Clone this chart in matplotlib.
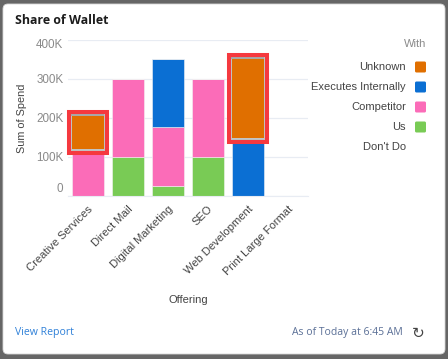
import matplotlib
matplotlib.use('Agg')
import matplotlib.pyplot as plt
from matplotlib.patches import FancyBboxPatch, Rectangle
import numpy as np

offerings = ['Creative Services', 'Direct Mail', 'Digital Marketing', 'SEO', 'Web Development', 'Print Large Format']
us = [0, 100, 24, 100, 0, 0]
competitor = [120, 200, 151, 200, 0, 0]
internal = [0, 0, 175, 0, 148, 0]
unknown = [85, 0, 0, 0, 202, 0]
yticks = [0, 100, 200, 300, 400]
ylabels = ['0', '100K', '200K', '300K', '400K']
legend_names = ['Unknown', 'Executes Internally', 'Competitor', 'Us', "Don't Do"]
colors = ['#e06f00', '#0b6fd3', '#fb6cb8', '#79cb55', None]
highlighted = [0, 4]

W, H = 448, 359
plt.rcParams['font.family'] = ['Liberation Sans', 'DejaVu Sans']
fig = plt.figure(figsize=(W / 100, H / 100), dpi=100, facecolor='#666666')

# the white card behind everything
bg = fig.add_axes([0, 0, 1, 1], zorder=0)
bg.set_xlim(0, W)
bg.set_ylim(H, 0)
bg.axis('off')
bg.add_patch(FancyBboxPatch((7, 8), 434, 342, boxstyle='round,pad=4,rounding_size=5',
                            fc='white', ec='#d8d8d8', lw=0.6))

ax = fig.add_axes([67.5 / W, 1 - 195.5 / H, 240 / W, 156 / H], zorder=1)
ax.patch.set_alpha(0)
x = np.arange(len(offerings))
bottom = np.zeros(len(offerings))
for vals, c in [(us, colors[3]), (competitor, colors[2]), (internal, colors[1]), (unknown, colors[0])]:
    ax.bar(x, vals, 0.8, bottom=bottom, color=c, edgecolor='#f3f3f3', lw=0.4, zorder=2)
    bottom = bottom + np.array(vals)

# red highlight around the Unknown segments
base = np.array(us) + np.array(competitor) + np.array(internal)
for i in highlighted:
    y0 = base[i]
    h = unknown[i]
    # soft shadow just under the box
    ax.add_patch(Rectangle((i - 0.47, y0 - 17), 0.98, h + 30, fc='black', ec='none', alpha=0.18, zorder=2.5, clip_on=False))
    ax.add_patch(Rectangle((i - 0.41, y0 - 4), 0.82, h + 8, fc='none', ec='#c4c4c4', lw=1.4, zorder=3, clip_on=False))
    ax.add_patch(Rectangle((i - 0.41, y0 + h), 0.82, 7, fc='#a8a8a8', ec='none', zorder=3, clip_on=False))
    ax.add_patch(Rectangle((i - 0.475, y0 - 10), 0.95, h + 20, fill=False, ec='#f5393f', lw=2.9, zorder=4, clip_on=False))
    # the bar itself stays clean inside the box
    ax.bar(i, h, 0.8, bottom=y0, color=colors[0], zorder=3.5)

ax.set_xlim(-0.5, 5.5)
ax.set_ylim(0, 400)
ax.set_yticks(yticks)
ax.set_yticklabels(ylabels, fontsize=8.4, color='#8a8a8a')
ax.get_yticklabels()[0].set_va('bottom')
ax.get_yticklabels()[-1].set_va('top')
ax.set_xticks(x)
ax.set_xticklabels(offerings, rotation=45, ha='right', va='top', rotation_mode='anchor',
                   fontsize=8, color='#444444')
ax.tick_params(length=0, axis='both')
ax.tick_params(axis='y', pad=3)
ax.tick_params(axis='x', pad=6)
ax.grid(axis='y', color='#e8ecf3', lw=0.9, zorder=0)
ax.set_axisbelow(True)
for s in ax.spines.values():
    s.set_visible(False)
ax.spines['bottom'].set_visible(True)
ax.spines['bottom'].set_color('#e8ecf3')

bg.text(22, 118, 'Sum of Spend', rotation=90, ha='center', va='center', fontsize=7.8, color='#444444')
bg.text(188, 300, 'Offering', ha='center', va='center', fontsize=8, color='#444444')
bg.text(15, 21, 'Share of Wallet', ha='left', va='center', fontsize=8.9, fontweight='bold',
        color='#1c1c1c', family=['Open Sans', 'DejaVu Sans'])

# legend, right aligned
bg.text(426, 44, 'With', ha='right', va='center', fontsize=8, color='#8a8a8a')
ly = 67
for name, c in zip(legend_names, colors):
    bg.text(406, ly, name, ha='right', va='center', fontsize=8, color='#444444')
    if c:
        bg.add_patch(FancyBboxPatch((416, ly - 4.5), 9, 9, boxstyle='round,pad=1,rounding_size=1.5', fc=c, ec='none'))
    ly += 20

bg.text(15, 332, 'View Report', ha='left', va='center', fontsize=7.6, color='#2f80d8',
        family=['Open Sans', 'DejaVu Sans'])
bg.text(403, 333, 'As of Today at 6:45 AM', ha='right', va='center', fontsize=7.5, color='#5a6f96',
        family=['Open Sans', 'DejaVu Sans'])
bg.text(418, 333, '\u21bb', ha='center', va='center', fontsize=11, color='#444444', family=['DejaVu Sans'])

fig.savefig('out.png', dpi=100, facecolor=fig.get_facecolor())
